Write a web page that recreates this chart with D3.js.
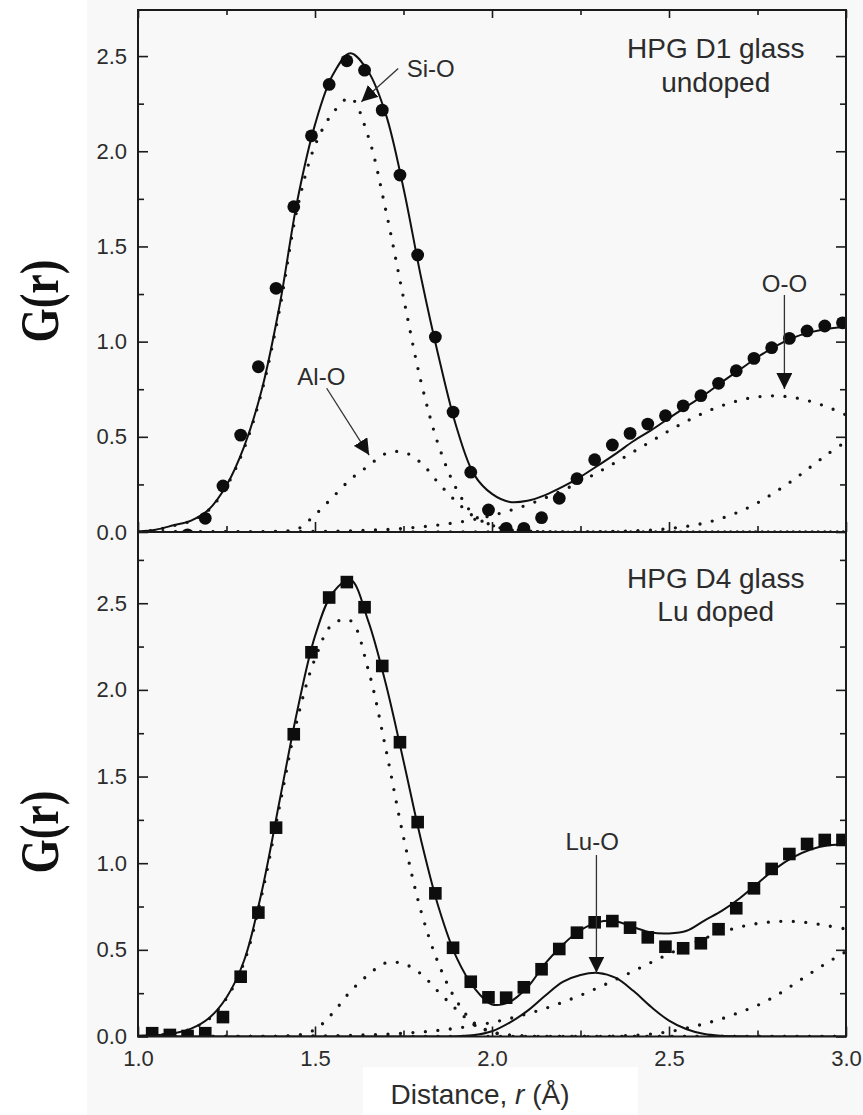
<!DOCTYPE html>
<html>
<head>
<meta charset="utf-8">
<script src="https://cdn.jsdelivr.net/npm/d3@7"></script>
<style>
  html, body { margin: 0; padding: 0; background: #fff; }
  svg { display: block; }
</style>
</head>
<body>
<svg id="chart" width="863" height="1115"></svg>
<script>
// ---------- data ----------
// radial grid of the fitted component curves (Å)
const rGrid = [1.00, 1.05, 1.10, 1.15, 1.20, 1.25, 1.30, 1.35, 1.40, 1.45,
               1.50, 1.55, 1.60, 1.65, 1.70, 1.75, 1.80, 1.85, 1.90, 1.95,
               2.00, 2.05, 2.10, 2.15, 2.20, 2.25, 2.30, 2.35, 2.40, 2.45,
               2.50, 2.55, 2.60, 2.65, 2.70, 2.75, 2.80, 2.85, 2.90, 2.95, 3.00];

// HPG D1 glass (undoped): total fit and its components
const d1Total = [0.003, 0.012, 0.035, 0.060, 0.118, 0.245, 0.450, 0.750, 1.190, 1.740,
                 2.140, 2.400, 2.515, 2.420, 2.195, 1.806, 1.334, 0.915, 0.549, 0.300,
                 0.200, 0.158, 0.164, 0.194, 0.238, 0.290, 0.350, 0.412, 0.478, 0.535,
                 0.598, 0.660, 0.720, 0.788, 0.853, 0.918, 0.975, 1.020, 1.050, 1.068, 1.078];
const d1SiO   = [0.003, 0.011, 0.033, 0.058, 0.115, 0.240, 0.440, 0.740, 1.170, 1.700,
                 2.030, 2.200, 2.280, 2.080, 1.690, 1.230, 0.785, 0.450, 0.225, 0.088,
                 0.035, 0.012, 0.004, 0.001, 0, 0, 0, 0, 0, 0,
                 0, 0, 0, 0, 0, 0, 0, 0, 0, 0, 0];
const d1AlO   = [0, 0, 0, 0, 0, 0, 0, 0, 0.004, 0.015,
                 0.090, 0.183, 0.276, 0.346, 0.412, 0.420, 0.362, 0.255, 0.158, 0.080,
                 0.035, 0.015, 0.006, 0.002, 0, 0, 0, 0, 0, 0,
                 0, 0, 0, 0, 0, 0, 0, 0, 0, 0, 0];
const d1OO    = [0, 0, 0, 0, 0, 0, 0, 0.001, 0.001, 0.002,
                 0.003, 0.004, 0.006, 0.009, 0.013, 0.019, 0.027, 0.037, 0.050, 0.066,
                 0.087, 0.113, 0.143, 0.179, 0.219, 0.265, 0.314, 0.367, 0.422, 0.477,
                 0.532, 0.582, 0.627, 0.664, 0.692, 0.710, 0.715, 0.707, 0.686, 0.655, 0.615];
const d1TT    = [0, 0, 0, 0, 0, 0, 0, 0, 0, 0,
                 0, 0, 0, 0, 0, 0, 0, 0, 0, 0,
                 0, 0, 0, 0, 0, 0, 0.002, 0.003, 0.006, 0.010,
                 0.018, 0.030, 0.047, 0.073, 0.108, 0.153, 0.210, 0.272, 0.342, 0.412, 0.475];

// HPG D1 glass: measured G(r)
const d1R = [1.14, 1.19, 1.24, 1.29, 1.34, 1.39, 1.44, 1.49, 1.54, 1.59,
             1.64, 1.69, 1.74, 1.79, 1.84, 1.89, 1.94, 1.99, 2.04, 2.09,
             2.14, 2.19, 2.24, 2.29, 2.34, 2.39, 2.44, 2.49, 2.54, 2.59,
             2.64, 2.69, 2.74, 2.79, 2.84, 2.89, 2.94, 2.99];
const d1G = [-0.015, 0.072, 0.242, 0.509, 0.868, 1.280, 1.709, 2.081, 2.351, 2.475,
             2.426, 2.216, 1.875, 1.455, 1.024, 0.630, 0.314, 0.116, 0.019, 0.019,
             0.075, 0.177, 0.280, 0.380, 0.457, 0.518, 0.567, 0.611, 0.663, 0.716,
             0.781, 0.847, 0.912, 0.968, 1.017, 1.056, 1.082, 1.099];

// HPG D4 glass (Lu doped): total fit and its components
const d4Total = [0.004, 0.008, 0.018, 0.045, 0.105, 0.225, 0.440, 0.840, 1.360, 1.880,
                 2.310, 2.560, 2.635, 2.400, 2.035, 1.590, 1.130, 0.740, 0.455, 0.280,
                 0.185, 0.200, 0.284, 0.420, 0.530, 0.613, 0.660, 0.665, 0.630, 0.600,
                 0.595, 0.610, 0.669, 0.726, 0.798, 0.883, 0.967, 1.033, 1.079, 1.103, 1.109];
const d4SiO   = [0.004, 0.008, 0.018, 0.044, 0.100, 0.220, 0.430, 0.820, 1.330, 1.830,
                 2.180, 2.380, 2.400, 2.120, 1.660, 1.150, 0.720, 0.415, 0.205, 0.078,
                 0.027, 0.008, 0.002, 0, 0, 0, 0, 0, 0, 0,
                 0, 0, 0, 0, 0, 0, 0, 0, 0, 0, 0];
const d4AlO   = [0, 0, 0, 0, 0, 0, 0, 0, 0.002, 0.008,
                 0.040, 0.135, 0.260, 0.355, 0.425, 0.420, 0.360, 0.255, 0.155, 0.068,
                 0.025, 0.008, 0.002, 0, 0, 0, 0, 0, 0, 0,
                 0, 0, 0, 0, 0, 0, 0, 0, 0, 0, 0];
const d4OO    = [0, 0, 0, 0, 0, 0, 0, 0.001, 0.001, 0.002,
                 0.003, 0.0045, 0.0066, 0.0095, 0.0136, 0.019, 0.026, 0.036, 0.048, 0.063,
                 0.081, 0.104, 0.131, 0.162, 0.198, 0.238, 0.282, 0.329, 0.378, 0.428,
                 0.477, 0.524, 0.566, 0.602, 0.632, 0.652, 0.663, 0.664, 0.655, 0.638, 0.620];
const d4TT    = [0, 0, 0, 0, 0, 0, 0, 0, 0, 0,
                 0, 0, 0, 0, 0, 0, 0, 0, 0, 0,
                 0, 0, 0, 0, 0, 0, 0, 0.003, 0.007, 0.014,
                 0.028, 0.048, 0.074, 0.103, 0.140, 0.180, 0.233, 0.298, 0.365, 0.430, 0.490];
const d4LuO   = [0, 0, 0, 0, 0, 0, 0, 0, 0, 0,
                 0, 0, 0, 0, 0, 0, 0, 0, 0.002, 0.008,
                 0.030, 0.080, 0.148, 0.235, 0.315, 0.355, 0.367, 0.338, 0.262, 0.170,
                 0.092, 0.042, 0.014, 0.004, 0.001, 0, 0, 0, 0, 0, 0];

// HPG D4 glass: measured G(r)
const d4R = [1.04, 1.09, 1.14, 1.19, 1.24, 1.29, 1.34, 1.39, 1.44, 1.49,
             1.54, 1.59, 1.64, 1.69, 1.74, 1.79, 1.84, 1.89, 1.94, 1.99,
             2.04, 2.09, 2.14, 2.19, 2.24, 2.29, 2.34, 2.39, 2.44, 2.49,
             2.54, 2.59, 2.64, 2.69, 2.74, 2.79, 2.84, 2.89, 2.94, 2.99];
const d4G = [0.019, 0.009, 0.003, 0.019, 0.112, 0.345, 0.715, 1.205, 1.744, 2.217,
             2.533, 2.622, 2.477, 2.138, 1.698, 1.237, 0.826, 0.512, 0.316, 0.226,
             0.224, 0.284, 0.388, 0.505, 0.599, 0.659, 0.666, 0.628, 0.572, 0.518,
             0.509, 0.538, 0.619, 0.740, 0.855, 0.967, 1.053, 1.111, 1.134, 1.134];

// axis ticks
const xMajor = [1.0, 1.5, 2.0, 2.5, 3.0];
const xMinor = [1.25, 1.75, 2.25, 2.75];
const yMajor = [0.0, 0.5, 1.0, 1.5, 2.0, 2.5];
const yMinor = [0.25, 0.75, 1.25, 1.75, 2.25, 2.75];

// ---------- drawing ----------
const W = 863, H = 1115;
const SANS = "'Liberation Sans', Arial, Helvetica, sans-serif";
const SERIF = "'Liberation Serif', 'Times New Roman', serif";
const INK = "#1b1b1b";
const TXT = "#2c2c2c";

const svg = d3.select("#chart");

// page backdrop: white margin at the left, pale grey sheet behind the plots
svg.append("rect").attr("width", W).attr("height", H).attr("fill", "#ffffff");
svg.append("rect").attr("x", 87).attr("y", 0).attr("width", W - 87).attr("height", H).attr("fill", "#f8f8f8");
svg.append("rect").attr("x", 363).attr("y", 1067).attr("width", 275).attr("height", H - 1067).attr("fill", "#ffffff");

const defs = svg.append("defs");
defs.append("marker")
  .attr("id", "head")
  .attr("viewBox", "0 0 16 16")
  .attr("refX", 16).attr("refY", 8)
  .attr("markerWidth", 16).attr("markerHeight", 16)
  .attr("markerUnits", "userSpaceOnUse")
  .attr("orient", "auto")
  .append("path").attr("d", "M0,0 L16,8 L0,16 Z").attr("fill", "#111");

const x = d3.scaleLinear().domain([1, 3]).range([138, 846]);

const panels = [
  {
    id: "d1", top: 10, bottom: 532, ymax: 2.742, topTicks: true,
    dotted: [d1SiO, d1AlO, d1OO, d1TT],
    solid: [d1Total],
    pr: d1R, pg: d1G, marker: "circle",
    notes: [
      { text: "Si-O", r: 1.827, g: 2.39, from: [1.735, 2.435], to: [1.631, 2.26] },
      { text: "Al-O", r: 1.518, g: 0.772, from: [1.533, 0.755], to: [1.653, 0.404] },
      { text: "O-O", r: 2.826, g: 1.262, from: [2.826, 1.245], to: [2.826, 0.751] }
    ],
    title: ["HPG D1 glass", "undoped"], titleR: 2.632, titleG: [2.49, 2.313]
  },
  {
    id: "d4", top: 532, bottom: 1036.5, ymax: 2.911, topTicks: false,
    dotted: [d4SiO, d4AlO, d4OO, d4TT],
    solid: [d4Total, d4LuO],
    pr: d4R, pg: d4G, marker: "square",
    notes: [
      { text: "Lu-O", r: 2.283, g: 1.076, from: [2.295, 1.047], to: [2.295, 0.368] }
    ],
    title: ["HPG D4 glass", "Lu doped"], titleR: 2.632, titleG: [2.59, 2.40]
  }
];

panels.forEach(p => {
  const y = d3.scaleLinear().domain([0, p.ymax]).range([p.bottom, p.top]);
  const g = svg.append("g").attr("class", "panel-" + p.id);

  const clipId = "clip-" + p.id;
  defs.append("clipPath").attr("id", clipId)
    .append("rect")
    .attr("x", x.range()[0]).attr("y", p.top)
    .attr("width", x.range()[1] - x.range()[0]).attr("height", p.bottom - p.top);

  const plot = g.append("g").attr("clip-path", `url(#${clipId})`);

  const line = d3.line()
    .x((d, i) => x(rGrid[i]))
    .y(d => y(d))
    .curve(d3.curveCatmullRom.alpha(0.5));

  // fitted partial contributions, dotted
  plot.selectAll("path.part").data(p.dotted).join("path")
    .attr("class", "part")
    .attr("d", d => line(d))
    .attr("fill", "none")
    .attr("stroke", "#151515")
    .attr("stroke-width", 3.3)
    .attr("stroke-linecap", "round")
    .attr("stroke-dasharray", "0 12.5");

  // total fit (and Lu-O component), solid
  plot.selectAll("path.fit").data(p.solid).join("path")
    .attr("class", "fit")
    .attr("d", d => line(d))
    .attr("fill", "none")
    .attr("stroke", "#111")
    .attr("stroke-width", 2);

  // measured points
  const pts = p.pr.map((r, i) => ({ r, g: p.pg[i] }));
  if (p.marker === "circle") {
    plot.selectAll("circle.obs").data(pts).join("circle")
      .attr("class", "obs")
      .attr("cx", d => x(d.r)).attr("cy", d => y(d.g))
      .attr("r", 6.4).attr("fill", "#0d0d0d");
  } else {
    const s = 12.6;
    plot.selectAll("rect.obs").data(pts).join("rect")
      .attr("class", "obs")
      .attr("x", d => x(d.r) - s / 2).attr("y", d => y(d.g) - s / 2)
      .attr("width", s).attr("height", s).attr("fill", "#0d0d0d");
  }

  // ticks
  const yMin = yMinor.filter(v => v < p.ymax);
  const styleAxis = sel => {
    sel.select(".domain").remove();
    sel.attr("color", INK);
    sel.selectAll(".tick line").attr("stroke-width", 1.6);
    sel.selectAll("text").attr("font-family", SANS).attr("font-size", 22).attr("fill", TXT);
  };
  const fmt = d3.format(".1f");

  g.append("g").attr("transform", `translate(${x.range()[0]},0)`)
    .call(d3.axisLeft(y).tickValues(yMajor).tickSize(-10).tickPadding(11).tickFormat(fmt))
    .call(styleAxis);
  g.append("g").attr("transform", `translate(${x.range()[0]},0)`)
    .call(d3.axisLeft(y).tickValues(yMin).tickSize(-6).tickFormat(""))
    .call(styleAxis);
  g.append("g").attr("transform", `translate(${x.range()[1]},0)`)
    .call(d3.axisRight(y).tickValues(yMajor).tickSize(-10).tickFormat(""))
    .call(styleAxis);
  g.append("g").attr("transform", `translate(${x.range()[1]},0)`)
    .call(d3.axisRight(y).tickValues(yMin).tickSize(-6).tickFormat(""))
    .call(styleAxis);

  const bottomLabels = p.id === "d4";
  g.append("g").attr("transform", `translate(0,${p.bottom})`)
    .call(d3.axisBottom(x).tickValues(xMajor).tickSize(-10).tickPadding(13.5)
      .tickFormat(bottomLabels ? fmt : ""))
    .call(styleAxis);
  g.append("g").attr("transform", `translate(0,${p.bottom})`)
    .call(d3.axisBottom(x).tickValues(xMinor).tickSize(-6).tickFormat(""))
    .call(styleAxis);
  if (p.topTicks) {
    g.append("g").attr("transform", `translate(0,${p.top})`)
      .call(d3.axisTop(x).tickValues(xMajor).tickSize(-8).tickFormat(""))
      .call(styleAxis);
    g.append("g").attr("transform", `translate(0,${p.top})`)
      .call(d3.axisTop(x).tickValues(xMinor).tickSize(-5).tickFormat(""))
      .call(styleAxis);
  }

  // frame
  g.append("rect")
    .attr("x", x.range()[0]).attr("y", p.top)
    .attr("width", x.range()[1] - x.range()[0]).attr("height", p.bottom - p.top)
    .attr("fill", "none").attr("stroke", INK).attr("stroke-width", 2);

  // peak annotations
  p.notes.forEach(n => {
    g.append("line")
      .attr("x1", x(n.from[0])).attr("y1", y(n.from[1]))
      .attr("x2", x(n.to[0])).attr("y2", y(n.to[1]))
      .attr("stroke", "#333").attr("stroke-width", 1.3)
      .attr("marker-end", "url(#head)");
    g.append("text")
      .attr("x", x(n.r)).attr("y", y(n.g))
      .attr("text-anchor", "middle")
      .attr("font-family", SANS).attr("font-size", 24).attr("fill", TXT)
      .text(n.text);
  });

  // sample title
  p.title.forEach((t, i) => {
    g.append("text")
      .attr("x", x(p.titleR)).attr("y", y(p.titleG[i]))
      .attr("text-anchor", "middle")
      .attr("font-family", SANS).attr("font-size", 28).attr("fill", TXT)
      .text(t);
  });

  // y-axis title
  const cy = p.id === "d1" ? 301 : 832;
  svg.append("text")
    .attr("transform", `translate(40,${cy}) rotate(-90) scale(1,1.25)`)
    .attr("text-anchor", "middle")
    .attr("dominant-baseline", "central")
    .attr("font-family", SERIF).attr("font-weight", "bold").attr("font-size", 44)
    .attr("fill", "#111")
    .text("G(r)");
});

// x-axis title
const xt = svg.append("text")
  .attr("x", (x.range()[0] + x.range()[1]) / 2 - 12).attr("y", 1104)
  .attr("text-anchor", "middle")
  .attr("font-family", SANS).attr("font-size", 28).attr("fill", TXT);
xt.append("tspan").text("Distance, ");
xt.append("tspan").attr("font-style", "italic").text("r");
xt.append("tspan").text(" (Å)");
</script>
</body>
</html>
